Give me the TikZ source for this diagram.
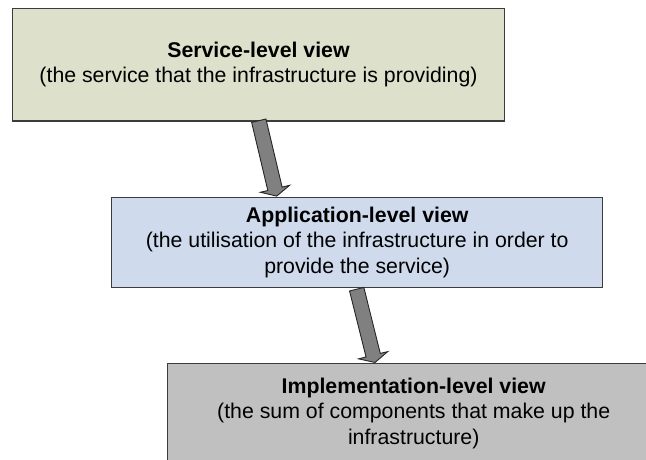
\documentclass[tikz,border=0pt]{standalone}
\usepackage{fontspec}
\setmainfont{Liberation Sans}
\usetikzlibrary{calc}
\definecolor{svcfill}{RGB}{221,224,203}
\definecolor{appfill}{RGB}{207,219,237}
\definecolor{impfill}{RGB}{192,192,192}
\definecolor{edgecol}{RGB}{60,60,60}
\definecolor{arrfill}{RGB}{128,128,128}
\tikzset{
  viewbox/.style={draw=edgecol, line width=1.2pt, rectangle, inner sep=0pt, align=center,
    font=\fontsize{21.3}{25.6}\selectfont, text=black},
  blockarrow/.style={draw=black!85, line width=0.9pt, fill=arrfill, line join=miter},
}
\newcommand{\blockarr}[2]{%
  \coordinate (hb) at ($(#2)!7.5pt!(#1)$);
  \path[blockarrow] ($(#1)!7.35pt!90:(#2)$) -- ($(hb)!7.35pt!90:(#2)$) -- ($(hb)!15pt!90:(#2)$) -- (#2)
     -- ($(hb)!15pt!-90:(#2)$) -- ($(hb)!7.35pt!-90:(#2)$) -- ($(#1)!7.35pt!-90:(#2)$) -- cycle;}
\begin{document}
\begin{tikzpicture}[x=1pt,y=1pt]
\clip (0,0) rectangle (646,459);
\fill[white] (0,0) rectangle (646,459);
\node[viewbox, fill=svcfill, minimum width=491.6pt, minimum height=112.7pt] (svc) at (258.5,394.35)
  {\textbf{Service-level view}\\(the service that the infrastructure is providing)};
\node[viewbox, fill=appfill, minimum width=491pt, minimum height=90pt] (app) at (357.2,216.7)
  {\textbf{Application-level view}\\(the utilisation of the infrastructure in order to\\provide the service)};
\node[viewbox, fill=impfill, minimum width=492pt, minimum height=100.2pt] (imp) at (413.7,45.6)
  {\textbf{Implementation-level view}\\(the sum of components that make up the\\infrastructure)};
\coordinate (a1t) at ($(svc.south)+(0.3,0.9)$);
\coordinate (a1p) at ($(app.north)+(-80.5,0.6)$);
\coordinate (a2t) at ($(app.south)+(-0.5,-1.3)$);
\coordinate (a2p) at ($(imp.north)+(-38.7,0.2)$);
\blockarr{a1t}{a1p}
\blockarr{a2t}{a2p}
\end{tikzpicture}
\end{document}
